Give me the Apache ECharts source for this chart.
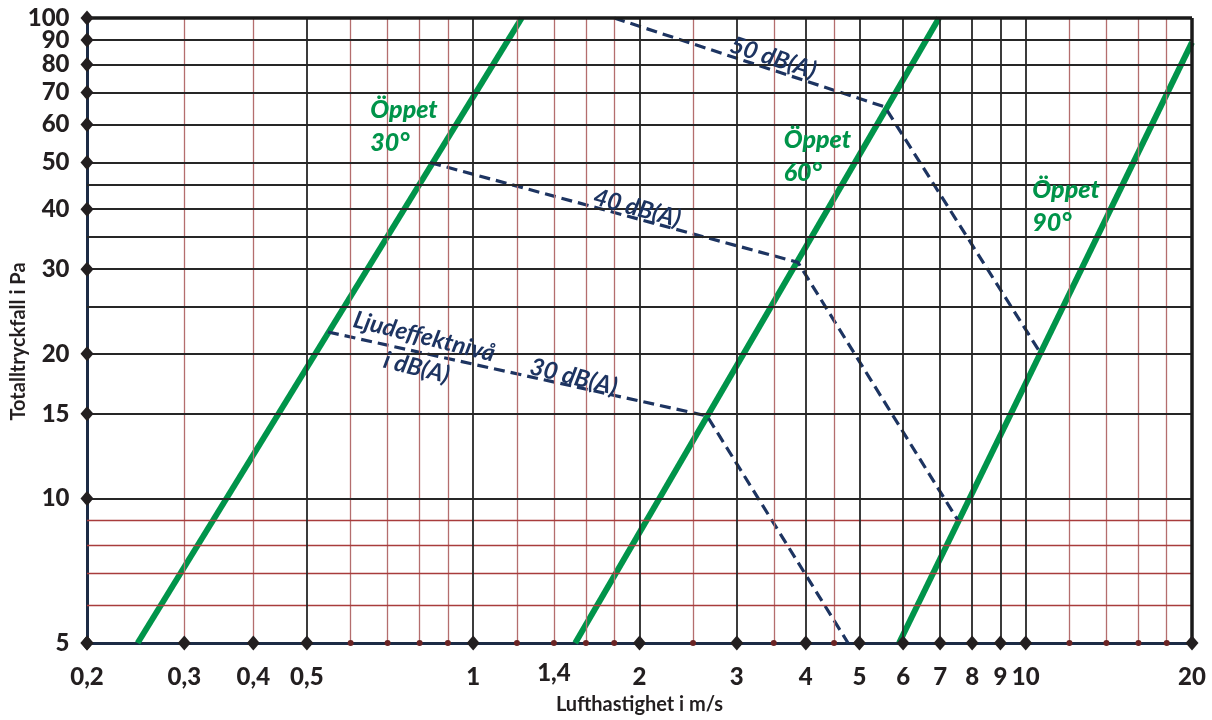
<!DOCTYPE html>
<html><head><meta charset="utf-8">
<script src="https://cdn.jsdelivr.net/npm/echarts@6/dist/echarts.min.js"></script>
<style>html,body{margin:0;padding:0;background:#fff}#c{width:1212px;height:720px}</style>
</head><body><div id="c"></div>
<script>
// ---- tick / grid values ----
const xMajorTicks = [0.2,0.3,0.4,0.5,1,2,3,4,5,6,7,8,9,10,20];
const xMinorTicks = [0.6,0.7,0.8,0.9,1.2,1.4,1.6,1.8,2.5,3.5,4.5,12,14,16,18];
const xTickLabels = [0.2,0.3,0.4,0.5,1,1.4,2,3,4,5,6,7,8,9,10,20];
const yTicks = [5,10,15,20,30,40,50,60,70,80,90,100];
const xBlackGrid = [0.5,1,2,3,4,5,6,7,8,9,10];
const xRedGrid = [0.3,0.4,0.6,0.7,0.8,0.9,1.2,1.4,1.6,1.8,2.5,3.5,4.5,12,14,16,18];
const yBlackGrid = [10,15,20,25,30,35,40,45,50,60,70,80,90];
const yRedGrid = [6,7,8,9];

// ---- curves ----
const open30 = [[0.247,5],[1.224,100]];
const open60 = [[1.53,5],[6.97,100]];
const open90 = [[5.9,5],[20,89]];
const db30 = [[0.546,22.2],[2.65,14.85],[4.77,5]];
const db40 = [[0.836,50],[3.87,31],[7.54,9]];
const db50 = [[1.8,100],[5.56,65.3],[10.6,20.2]];

// ---- annotation texts ----
const greenTexts = ['Öppet\n30°','Öppet\n60°','Öppet\n90°'];
const greenAnchors = [[0.65,59.5],[3.64,51.6],[10.26,40.6]];
const dbTexts = ['50 dB(A)','40 dB(A)','30 dB(A)','Ljudeffektnivå','i dB(A)'];
const dbAnchors = [[3.49,82.6],[1.98,40.2],[1.52,17.9],[0.815,21.7],[0.79,18.7]];
const dbRot = [-18,-15,-14,-14,-14];

const FONT = 'Lato, "Open Sans", sans-serif';
const INK = '#231f20';
const NAVY = '#1d3461';
const GREEN = '#00944a';
const CLEAR = 'rgba(0,0,0,0)';
const fmt = v => String(v).replace('.', ',');

const gl = (color, width) => ({color, width, type:'solid'});
const gridData = [].concat(
  xRedGrid.map(v => ({xAxis: v, lineStyle: gl('#b46e6e', 1.3)})),
  yRedGrid.map(v => ({yAxis: v, lineStyle: gl('#a83c3c', 1.3)})),
  xBlackGrid.map(v => ({xAxis: v, lineStyle: gl('#262626', 1.8)})),
  yBlackGrid.map(v => ({yAxis: v, lineStyle: gl('#262626', 1.8)})),
  [{yAxis: 100, lineStyle: gl('#1a1a1a', 3.5)}, {xAxis: 20, lineStyle: gl('#1a1a1a', 3.5)}]
);

const chart = echarts.init(document.getElementById('c'));
const axisCommon = {
  type:'log', logBase:10,
  axisLine:{show:true, onZero:false, lineStyle:{color:'#1c2b45', width:3}},
  axisTick:{show:false}, axisLabel:{show:false}, splitLine:{show:false},
  nameLocation:'middle',
  nameTextStyle:{fontFamily:FONT, fontWeight:'bold', fontSize:20, color:INK}
};
const labelSeries = (data, label, z) => ({type:'scatter', clip:false, silent:true, z:z||7,
  symbol:'circle', symbolSize:1, itemStyle:{color:CLEAR, opacity:1}, data, label});
const option = {
  animation:false,
  grid:{left:87, right:20, top:18, bottom:77},
  xAxis: Object.assign({}, axisCommon, {min:0.2, max:20, name:'Lufthastighet i m/s', nameGap:52}),
  yAxis: Object.assign({}, axisCommon, {min:5, max:100, name:'Totalltryckfall i Pa', nameGap:58,
    nameTextStyle:{fontFamily:FONT, fontWeight:'bold', fontSize:20, color:INK, padding:[0,22,0,0]}}),
  series:[
    {type:'line', data:[], silent:true, z:1,
     markLine:{silent:true, symbol:'none', animation:false, label:{show:false}, emphasis:{disabled:true},
       lineStyle:{type:'solid'}, data:gridData}},
    ...[open30, open60, open90].map(d => ({type:'line', data:d, symbol:'none', silent:true, z:3,
      lineStyle:{color:GREEN, width:6}})),
    ...[db30, db40, db50].map(d => ({type:'line', data:d, symbol:'none', silent:true, z:4,
      lineStyle:{color:NAVY, width:3.2, type:[11,6]}})),
    {type:'scatter', clip:false, silent:true, z:6, symbol:'diamond', symbolSize:[13,15],
     itemStyle:{color:INK, opacity:1}, data: xMajorTicks.map(v => [v,5])},
    {type:'scatter', clip:false, silent:true, z:6, symbol:'diamond', symbolSize:[13,15],
     itemStyle:{color:INK, opacity:1}, data: yTicks.map(v => [0.2,v])},
    {type:'scatter', clip:false, silent:true, z:6, symbol:'circle', symbolSize:6,
     itemStyle:{color:'#6b2424', opacity:1}, data: xMinorTicks.map(v => [v,5])},
    labelSeries(xTickLabels.map(v => ({value:[v,5], label:{distance: v===1.4 ? 18 : 22}})),
     {show:true, position:'bottom', formatter: p => fmt(p.value[0]),
       fontFamily:FONT, fontWeight:900, fontSize:24, color:INK}),
    labelSeries(yTicks.map(v => [0.2,v]),
     {show:true, position:'left', distance:17, formatter: p => fmt(p.value[1]),
       fontFamily:FONT, fontWeight:900, fontSize:24, color:INK}),
    labelSeries(greenTexts.map((t,i) => ({value:greenAnchors[i], name:t})),
     {show:true, position:'right', distance:0, align:'left', verticalAlign:'middle',
       formatter: p => p.name, lineHeight:33,
       fontFamily:FONT, fontWeight:900, fontStyle:'italic', fontSize:25, color:GREEN}, 8),
    labelSeries(dbTexts.map((t,i) => ({value:dbAnchors[i], name:t, label:{rotate:dbRot[i]}})),
     {show:true, position:'inside', align:'center', verticalAlign:'middle',
       formatter: p => p.name,
       fontFamily:FONT, fontWeight:'bold', fontStyle:'italic', fontSize:24, color:NAVY}, 8)
  ]
};
chart.setOption(option);
</script></body></html>
